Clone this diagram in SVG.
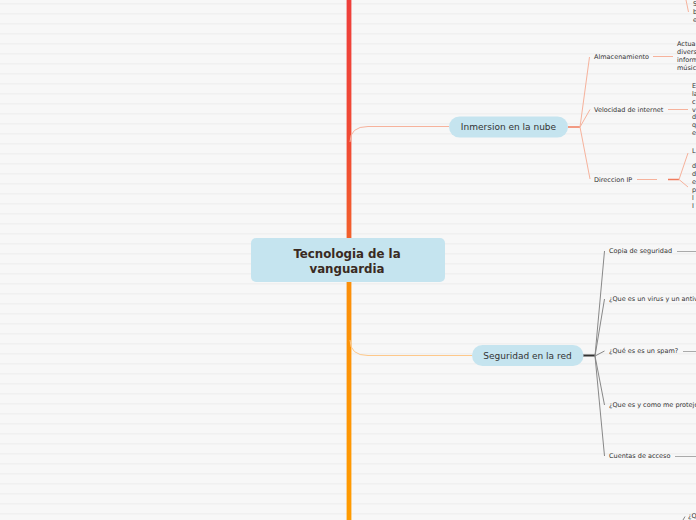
<svg xmlns="http://www.w3.org/2000/svg" width="696" height="520" viewBox="0 0 696 520">
<defs>
<pattern id="stripes" x="0" y="0" width="696" height="10" patternUnits="userSpaceOnUse">
<rect x="0" y="0" width="696" height="10" fill="#f7f7f7"/>
<rect x="0" y="3" width="696" height="1.5" fill="#f0f0f0"/>
</pattern>
<linearGradient id="redTrunk" x1="0" y1="0" x2="0" y2="1">
<stop offset="0" stop-color="#ee3f3b"/>
<stop offset="0.6" stop-color="#f04a34"/>
<stop offset="1" stop-color="#f2602c"/>
</linearGradient>
<linearGradient id="orangeTrunk" x1="0" y1="0" x2="0" y2="1">
<stop offset="0" stop-color="#fb8f0a"/>
<stop offset="1" stop-color="#ff9b00"/>
</linearGradient>
</defs>
<style>
.t { font-family: "DejaVu Sans", Verdana, sans-serif; fill: #333333; dominant-baseline: central; }
.small { font-size: 6.5px; }
.main { font-size: 9px; text-anchor: middle; }
.root { font-size: 11.8px; font-weight: bold; text-anchor: middle; fill: #3a2a22; }
.sal { stroke: #f6b29c; stroke-width: 1; fill: none; }
.salD { stroke: #f07b5c; stroke-width: 1.5; fill: none; }
.gry { stroke: #888888; stroke-width: 1; fill: none; }
.gryL { stroke: #aaaaaa; stroke-width: 1.2; fill: none; }
.node { fill: #c5e4ef; }
</style>
<rect x="0" y="0" width="696" height="520" fill="url(#stripes)"/>

<g id="connectors">
<rect x="346.6" y="0" width="4.8" height="238" fill="url(#redTrunk)"/>
<rect x="346.6" y="282" width="4.8" height="238" fill="url(#orangeTrunk)"/>
<path class="sal" d="M350 142 Q350 126.5 368 126.5 L449 126.5" stroke="#f5a688"/>
<path d="M350 340 Q350 355.5 368 355.5 L472 355.5" fill="none" stroke="#fdc88a" stroke-width="1"/>
<path class="salD" d="M568 127 L580 127"/>
<path class="sal" d="M580 127 L589.5 57 M580 127 L590 109.5 M580 127 L590 179"/>
<path class="sal" d="M653 56.5 L673 56.5"/>
<path class="sal" d="M668 109.5 L688 109.5"/>
<path class="sal" d="M637 179.5 L657 179.5"/>
<path class="salD" d="M668 179.5 L679 179.5"/>
<path class="sal" d="M679 179.5 L688 153 M679 179.5 L688 187"/>
<path class="sal" d="M686 0 L688.5 12"/>
<path d="M583 355.5 L595 355.5" stroke="#333333" stroke-width="2" fill="none"/>
<path class="gry" d="M595 356 L604.5 251 M595 356 L604.5 299 M595 356 L604.5 351 M595 356 L604.5 405 M595 356 L604.5 456"/>
<path class="gryL" d="M677 251.5 L696 251.5 M683 351.5 L696 351.5 M675 456.5 L696 456.5"/>
<path class="gry" d="M683 520 L685 516.5"/>
</g>

<g id="root">
<rect class="node" x="251" y="238" width="194" height="44" rx="5"/>
<text class="t root" x="347" y="254">Tecnologia de la</text>
<text class="t root" x="347" y="269">vanguardia</text>
</g>

<g id="inmersion">
<rect class="node" x="449" y="116.5" width="119" height="21" rx="10.5"/>
<text class="t main" x="508.5" y="127">Inmersion en la nube</text>
</g>

<g id="seguridad">
<rect class="node" x="472" y="345" width="111.5" height="21" rx="10.5"/>
<text class="t main" x="527.5" y="355.5">Seguridad en la red</text>
</g>

<g id="almacenamiento"><text class="t small" x="594" y="56.5">Almacenamiento</text></g>
<g id="velocidad"><text class="t small" x="594" y="109.5">Velocidad de internet</text></g>
<g id="direccion"><text class="t small" x="594" y="179.5">Direccion IP</text></g>

<g id="top-note">
<text class="t small" x="693" y="4">S</text>
<text class="t small" x="693" y="12">b</text>
<text class="t small" x="693" y="19.5">e</text>
</g>
<g id="almacenamiento-note">
<text class="t small" x="677" y="44">Actua</text>
<text class="t small" x="677" y="52">divers</text>
<text class="t small" x="677" y="60">inform</text>
<text class="t small" x="677" y="68">músic</text>
</g>
<g id="velocidad-note">
<text class="t small" x="692" y="86">E</text>
<text class="t small" x="692" y="94">la</text>
<text class="t small" x="692" y="101.5">c</text>
<text class="t small" x="692" y="109.5">v</text>
<text class="t small" x="692" y="117">d</text>
<text class="t small" x="692" y="125">q</text>
<text class="t small" x="692" y="132.5">e</text>
</g>
<g id="direccion-note">
<text class="t small" x="692" y="150.5">L</text>
<text class="t small" x="692" y="166">d</text>
<text class="t small" x="692" y="174">d</text>
<text class="t small" x="692" y="182">e</text>
<text class="t small" x="692" y="190">p</text>
<text class="t small" x="692" y="198">l</text>
<text class="t small" x="692" y="206">I</text>
</g>

<g id="copia"><text class="t small" x="609" y="251">Copia de seguridad</text></g>
<g id="virus"><text class="t small" x="609" y="299">¿Que es un virus y un antivirus?</text></g>
<g id="spam"><text class="t small" x="609" y="351">¿Qué es es un spam?</text></g>
<g id="proteger"><text class="t small" x="609" y="405">¿Que es y como me protejo?</text></g>
<g id="cuentas"><text class="t small" x="609" y="456">Cuentas de acceso</text></g>
<g id="bottom-note"><text class="t small" x="688" y="516">¿Q</text></g>
</svg>
